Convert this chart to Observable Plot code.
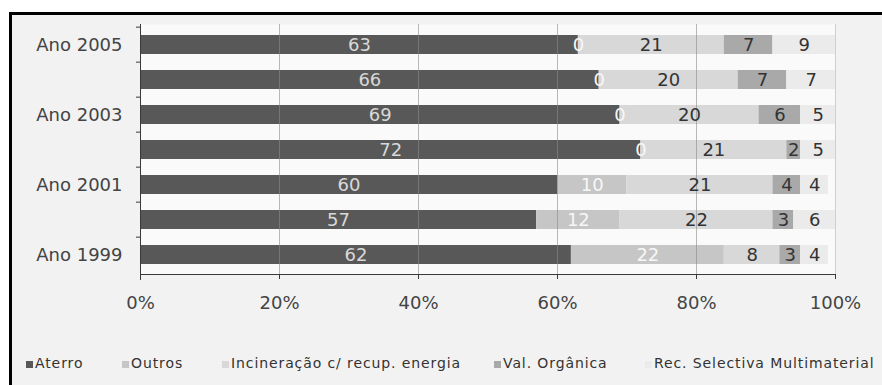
<!DOCTYPE html>
<html>
<head>
<meta charset="utf-8">
<script src="https://cdn.jsdelivr.net/npm/d3@7"></script>
<script src="https://cdn.jsdelivr.net/npm/@observablehq/plot@0.6"></script>
<style>
  html, body { margin: 0; padding: 0; background: #ffffff; width: 882px; height: 385px; overflow: hidden; }
  #frame { position: absolute; left: 9px; top: 12px; width: 880px; height: 380px;
           border-left: 3px solid #000; border-top: 3px solid #000; background: #f2f2f2; }
  #chart { position: absolute; left: 0; top: 0; }
  .leg { position: absolute; top: 340px; font-family: "DejaVu Sans", sans-serif; font-size: 14px;
         letter-spacing: 0.9px; color: #333; white-space: nowrap; line-height: 17px; }
  .sw { position: absolute; top: 346px; width: 7px; height: 7px; }
</style>
</head>
<body>
<div id="frame"><div id="chart"></div></div>
<script>
// ---- data ----
const years = [2005, 2004, 2003, 2002, 2001, 2000, 1999];
const yearLabels = ["Ano 2005", "", "Ano 2003", "", "Ano 2001", "", "Ano 1999"];
const categories = ["Aterro", "Outros", "Incineração c/ recup. energia", "Val. Orgânica", "Rec. Selectiva Multimaterial"];
const aterro       = [63, 66, 69, 72, 60, 57, 62];
const outros       = [0, 0, 0, 0, 10, 12, 22];
const incineracao  = [21, 20, 20, 21, 21, 22, 8];
const valOrganica  = [7, 7, 6, 2, 4, 3, 3];
const recSelectiva = [9, 7, 5, 5, 4, 6, 4];
const xTicks = [0, 20, 40, 60, 80, 100];

// ---- styles ----
const catColors   = ["#585858", "#c6c6c6", "#d8d8d8", "#a9a9a9", "#ebebeb"];
const labelColors = ["#d9d9d9", "#f7f7f7", "#333333", "#333333", "#333333"];

const series = [aterro, outros, incineracao, valOrganica, recSelectiva];
const rows = years.flatMap((y, i) => series.map((s, k) => ({year: y, cat: categories[k], value: s[i]})));

function stackedText(cats, extra) {
  const s = Plot.stackX({x: "value", y: "year", z: "cat", text: d => String(d.value), ...extra});
  const t = s.transform;
  return {...s, transform(data, facets, ...rest) {
    const r = t(data, facets, ...rest);
    return {...r, facets: r.facets.map(f => f.filter(i => cats.includes(r.data[i].cat)))};
  }};
}

const labelFmt = new Map(years.map((y, i) => [y, yearLabels[i]]));
const W = 870, H = 300, mT = 9, mB = 41;
const step = (H - mT - mB) / years.length;

const marks = [
  Plot.frame({fill: "#fafafa", stroke: null}),
  Plot.barX(rows, Plot.stackX({x: "value", y: "year", z: "cat", fill: "cat", insetTop: 8, insetBottom: 8})),
  Plot.ruleX(xTicks.filter(d => d > 0 && d < 100), {stroke: "#8a8a8a", strokeOpacity: 0.6}),
  Plot.ruleX(xTicks.filter(d => d === 100), {stroke: "#cfcfcf"}),
];
categories.forEach((c, k) => {
  marks.push(Plot.text(rows, stackedText([c], {fill: labelColors[k], fontSize: 18})));
});
marks.push(
  Plot.ruleX([0], {stroke: "#3a3a3a", insetBottom: -6}),
  Plot.frame({anchor: "bottom", stroke: "#3a3a3a"}),
  Plot.axisX({ticks: xTicks, tickFormat: d => d + "%", tickSize: 5, tickPadding: 17, fontSize: 18, stroke: "#3a3a3a", fill: "#444", label: null}),
  Plot.axisY({tickSize: 0, tickPadding: 18, tickFormat: d => labelFmt.get(d), fontSize: 18, fill: "#444", label: null}),
  Plot.axisY({tickSize: 4, tickFormat: () => "", dy: -step / 2, stroke: "#3a3a3a", label: null})
);

const chart = Plot.plot({
  width: W, height: H,
  marginLeft: 128, marginRight: 47, marginTop: mT, marginBottom: mB,
  style: {fontFamily: "DejaVu Sans, sans-serif", fontSize: "18px", color: "#444", background: "transparent", overflow: "visible"},
  x: {domain: [0, 100], label: null},
  y: {domain: years, padding: 0, label: null},
  color: {domain: categories, range: catColors},
  marks
});
document.getElementById("chart").appendChild(chart);

// legend (HTML, below the SVG)
const frame = document.getElementById("frame");
const legLeft = [14, 110, 210, 482, 633]; // positions relative to frame content
categories.forEach((c, k) => {
  const sw = document.createElement("div");
  sw.className = "sw";
  sw.style.left = legLeft[k] + "px";
  sw.style.background = catColors[k];
  frame.appendChild(sw);
  const t = document.createElement("div");
  t.className = "leg";
  t.style.left = (legLeft[k] + 9) + "px";
  t.textContent = c;
  frame.appendChild(t);
});
</script>
</body>
</html>
